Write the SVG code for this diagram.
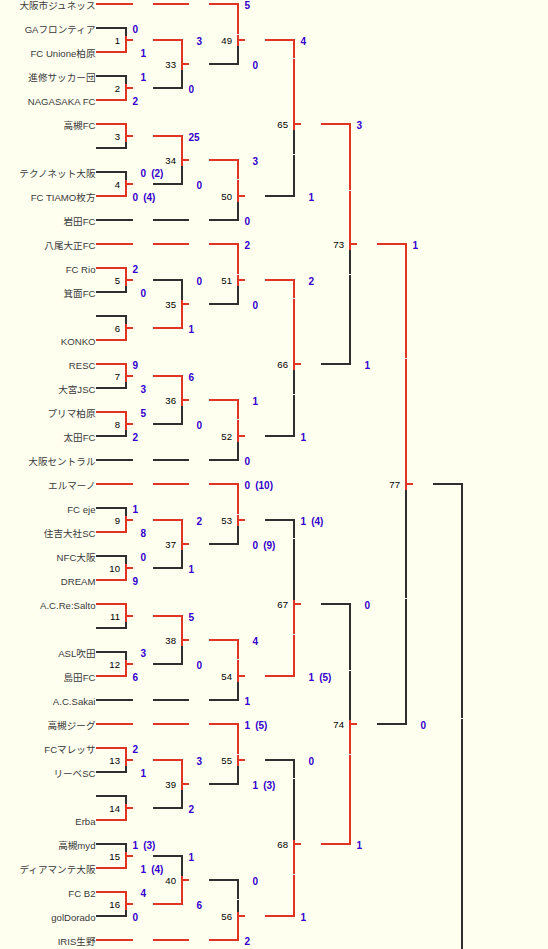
<svg xmlns="http://www.w3.org/2000/svg" width="548" height="949" viewBox="0 0 548 949">
<style>
.k{stroke:#2f2f2f;stroke-width:2;fill:none}
.r{stroke:#e23424;stroke-width:2;fill:none}
.g{fill:#ffffff}
.nm{font-family:"Liberation Sans","Noto Sans CJK JP",sans-serif;font-size:9.6px;fill:#3a3a3a;text-anchor:end}
.no{font-family:"Liberation Sans",sans-serif;font-size:9.6px;fill:#000;text-anchor:end}
.sc{font-family:"Liberation Sans",sans-serif;font-size:10px;font-weight:bold;fill:#3300cc}
</style>
<rect width="548" height="949" fill="#fffff0"/>
<g id="connectors" shape-rendering="crispEdges">
<!-- byes round 1/2 -->
<path class="r" d="M96 4H133M153 4H189M96 244H133M153 244H189M96 484H133M153 484H189M96 724H133M153 724H189M96 940H133M153 940H189"/>
<path class="k" d="M96 220H133M153 220H189M96 460H133M153 460H189M96 700H133M153 700H189"/>
<!-- round 1 -->
<path class="k" d="M96 28H127M96 76H127M96 148H127M96 172H127M96 292H127M96 316H127M96 388H127M96 436H127M96 508H127M96 556H127M96 628H127M96 652H127M96 772H127M96 796H127M96 844H127M96 916H127"/>
<path class="r" d="M96 52H127M96 100H127M96 124H127M96 196H127M96 268H127M96 340H127M96 364H127M96 412H127M96 532H127M96 580H127M96 604H127M96 676H127M96 748H127M96 820H127M96 868H127M96 892H127"/>
<path class="k" d="M126 27V53M126 75V101M126 123V149M126 171V197M126 267V293M126 315V341M126 363V389M126 411V437M126 507V533M126 555V581M126 603V629M126 651V677M126 747V773M126 795V821M126 843V869M126 891V917"/>
<path class="r" d="M126 36V53M126 84V101M126 123V142M126 180V197M126 267V286M126 324V341M126 363V382M126 411V430M126 516V533M126 564V581M126 603V622M126 660V677M126 747V766M126 804V821M126 852V869M126 891V910"/>
<path class="r" d="M127 40H133M127 88H133M127 136H133M127 184H133M127 280H133M127 328H133M127 376H133M127 424H133M127 520H133M127 568H133M127 616H133M127 664H133M127 760H133M127 808H133M127 856H133M127 904H133"/>
<!-- round 2 -->
<path class="r" d="M153 40H183M153 136H183M153 328H183M153 376H183M153 520H183M153 616H183M153 760H183M153 904H183"/>
<path class="k" d="M153 88H183M153 184H183M153 280H183M153 424H183M153 568H183M153 664H183M153 808H183M153 856H183"/>
<path class="k" d="M182 39V89M182 135V185M182 279V329M182 375V425M182 519V569M182 615V665M182 759V809M182 855V905"/>
<path class="r" d="M182 39V70M182 135V166M182 300V329M182 375V406M182 519V550M182 615V646M182 759V790M182 876V905"/>
<path class="r" d="M183 64H189M183 160H189M183 304H189M183 400H189M183 544H189M183 640H189M183 784H189M183 880H189"/>
<!-- round 3 -->
<path class="r" d="M209 4H239M209 160H239M209 244H239M209 400H239M209 484H239M209 640H239M209 724H239M209 940H239"/>
<path class="k" d="M209 64H239M209 220H239M209 304H239M209 460H239M209 544H239M209 700H239M209 784H239M209 880H239"/>
<path class="k" d="M238 3V65M238 159V221M238 243V305M238 399V461M238 483V545M238 639V701M238 723V785M238 879V941"/>
<path class="r" d="M238 3V46M238 159V202M238 243V286M238 399V442M238 483V526M238 639V682M238 723V766M238 912V941"/>
<path class="r" d="M239 40H245M239 196H245M239 280H245M239 436H245M239 520H245M239 676H245M239 760H245M239 916H245"/>
<!-- round 4 -->
<path class="r" d="M265 40H295M265 280H295M265 676H295M265 916H295"/>
<path class="k" d="M265 196H295M265 436H295M265 520H295M265 760H295"/>
<path class="k" d="M294 39V197M294 279V437M294 519V677M294 759V917"/>
<path class="r" d="M294 39V130M294 279V370M294 600V677M294 840V917"/>
<path class="r" d="M295 124H301M295 364H301M295 604H301M295 844H301"/>
<!-- round 5 -->
<path class="r" d="M321 124H351M321 844H351"/>
<path class="k" d="M321 364H351M321 604H351"/>
<path class="k" d="M350 123V365M350 603V845"/>
<path class="r" d="M350 123V250M350 720V845"/>
<path class="r" d="M351 244H357M351 724H357"/>
<!-- round 6 -->
<path class="r" d="M377 244H407"/>
<path class="k" d="M377 724H407"/>
<path class="k" d="M406 243V725"/>
<path class="r" d="M406 243V490"/>
<path class="r" d="M407 484H413"/>
<!-- final -->
<path class="k" d="M433 484H463M462 483V949"/>
<!-- cell seams -->
<g class="g">
<rect x="237" y="34" width="2" height="1"/><rect x="237" y="179" width="2" height="1"/><rect x="237" y="274" width="2" height="1"/><rect x="237" y="419" width="2" height="1"/><rect x="237" y="514" width="2" height="1"/><rect x="237" y="659" width="2" height="1"/><rect x="237" y="754" width="2" height="1"/><rect x="237" y="899" width="2" height="1"/>
<rect x="293" y="58" width="2" height="1"/><rect x="293" y="154" width="2" height="1"/><rect x="293" y="298" width="2" height="1"/><rect x="293" y="394" width="2" height="1"/><rect x="293" y="538" width="2" height="1"/><rect x="293" y="634" width="2" height="1"/><rect x="293" y="778" width="2" height="1"/><rect x="293" y="874" width="2" height="1"/>
<rect x="349" y="190" width="2" height="1"/><rect x="349" y="274" width="2" height="1"/><rect x="349" y="670" width="2" height="1"/><rect x="349" y="754" width="2" height="1"/>
<rect x="405" y="358" width="2" height="1"/><rect x="405" y="598" width="2" height="1"/>
<rect x="461" y="718" width="2" height="1"/>
</g>
</g>
<g id="teams">
<g id="team-00"><text class="nm" x="95.5" y="9">大阪市ジュネッス</text></g>
<g id="team-01"><text class="nm" x="95.5" y="33">GAフロンティア</text></g>
<g id="team-02"><text class="nm" x="95.5" y="57">FC Unione柏原</text></g>
<g id="team-03"><text class="nm" x="95.5" y="81">進修サッカー団</text></g>
<g id="team-04"><text class="nm" x="95.5" y="105">NAGASAKA FC</text></g>
<g id="team-05"><text class="nm" x="95.5" y="129">高槻FC</text></g>
<g id="team-07"><text class="nm" x="95.5" y="177">テクノネット大阪</text></g>
<g id="team-08"><text class="nm" x="95.5" y="201">FC TIAMO枚方</text></g>
<g id="team-09"><text class="nm" x="95.5" y="225">岩田FC</text></g>
<g id="team-10"><text class="nm" x="95.5" y="249">八尾大正FC</text></g>
<g id="team-11"><text class="nm" x="95.5" y="273">FC Rio</text></g>
<g id="team-12"><text class="nm" x="95.5" y="297">箕面FC</text></g>
<g id="team-14"><text class="nm" x="95.5" y="345">KONKO</text></g>
<g id="team-15"><text class="nm" x="95.5" y="369">RESC</text></g>
<g id="team-16"><text class="nm" x="95.5" y="393">大宮JSC</text></g>
<g id="team-17"><text class="nm" x="95.5" y="417">プリマ柏原</text></g>
<g id="team-18"><text class="nm" x="95.5" y="441">太田FC</text></g>
<g id="team-19"><text class="nm" x="95.5" y="465">大阪セントラル</text></g>
<g id="team-20"><text class="nm" x="95.5" y="489">エルマーノ</text></g>
<g id="team-21"><text class="nm" x="95.5" y="513">FC eje</text></g>
<g id="team-22"><text class="nm" x="95.5" y="537">住吉大社SC</text></g>
<g id="team-23"><text class="nm" x="95.5" y="561">NFC大阪</text></g>
<g id="team-24"><text class="nm" x="95.5" y="585">DREAM</text></g>
<g id="team-25"><text class="nm" x="95.5" y="609">A.C.Re:Salto</text></g>
<g id="team-27"><text class="nm" x="95.5" y="657">ASL吹田</text></g>
<g id="team-28"><text class="nm" x="95.5" y="681">島田FC</text></g>
<g id="team-29"><text class="nm" x="95.5" y="705">A.C.Sakai</text></g>
<g id="team-30"><text class="nm" x="95.5" y="729">高槻ジーグ</text></g>
<g id="team-31"><text class="nm" x="95.5" y="753">FCマレッサ</text></g>
<g id="team-32"><text class="nm" x="95.5" y="777">リーベSC</text></g>
<g id="team-34"><text class="nm" x="95.5" y="825">Erba</text></g>
<g id="team-35"><text class="nm" x="95.5" y="849">高槻myd</text></g>
<g id="team-36"><text class="nm" x="95.5" y="873">ディアマンテ大阪</text></g>
<g id="team-37"><text class="nm" x="95.5" y="897">FC B2</text></g>
<g id="team-38"><text class="nm" x="95.5" y="921">golDorado</text></g>
<g id="team-39"><text class="nm" x="95.5" y="945">IRIS生野</text></g>
</g>
<g id="matches">
<g id="m1"><text class="no" x="120" y="44">1</text><text class="sc" x="132.5" y="33">0</text><text class="sc" x="140.5" y="57">1</text></g>
<g id="m2"><text class="no" x="120" y="92">2</text><text class="sc" x="140.5" y="81">1</text><text class="sc" x="132.5" y="105">2</text></g>
<g id="m3"><text class="no" x="120" y="140">3</text></g>
<g id="m4"><text class="no" x="120" y="188">4</text><text class="sc" x="140.5" y="177">0<tspan x="151.2">(2)</tspan></text><text class="sc" x="132.5" y="201">0<tspan x="143.2">(4)</tspan></text></g>
<g id="m5"><text class="no" x="120" y="284">5</text><text class="sc" x="132.5" y="273">2</text><text class="sc" x="140.5" y="297">0</text></g>
<g id="m6"><text class="no" x="120" y="332">6</text></g>
<g id="m7"><text class="no" x="120" y="380">7</text><text class="sc" x="132.5" y="369">9</text><text class="sc" x="140.5" y="393">3</text></g>
<g id="m8"><text class="no" x="120" y="428">8</text><text class="sc" x="140.5" y="417">5</text><text class="sc" x="132.5" y="441">2</text></g>
<g id="m9"><text class="no" x="120" y="524">9</text><text class="sc" x="132.5" y="513">1</text><text class="sc" x="140.5" y="537">8</text></g>
<g id="m10"><text class="no" x="120" y="572">10</text><text class="sc" x="140.5" y="561">0</text><text class="sc" x="132.5" y="585">9</text></g>
<g id="m11"><text class="no" x="120" y="620">11</text></g>
<g id="m12"><text class="no" x="120" y="668">12</text><text class="sc" x="140.5" y="657">3</text><text class="sc" x="132.5" y="681">6</text></g>
<g id="m13"><text class="no" x="120" y="764">13</text><text class="sc" x="132.5" y="753">2</text><text class="sc" x="140.5" y="777">1</text></g>
<g id="m14"><text class="no" x="120" y="812">14</text></g>
<g id="m15"><text class="no" x="120" y="860">15</text><text class="sc" x="132.5" y="849">1<tspan x="143.2">(3)</tspan></text><text class="sc" x="140.5" y="873">1<tspan x="151.2">(4)</tspan></text></g>
<g id="m16"><text class="no" x="120" y="908">16</text><text class="sc" x="140.5" y="897">4</text><text class="sc" x="132.5" y="921">0</text></g>
<g id="m33"><text class="no" x="176" y="68">33</text><text class="sc" x="196.5" y="45">3</text><text class="sc" x="188.5" y="93">0</text></g>
<g id="m34"><text class="no" x="176" y="164">34</text><text class="sc" x="188.5" y="141">25</text><text class="sc" x="196.5" y="189">0</text></g>
<g id="m35"><text class="no" x="176" y="308">35</text><text class="sc" x="196.5" y="285">0</text><text class="sc" x="188.5" y="333">1</text></g>
<g id="m36"><text class="no" x="176" y="404">36</text><text class="sc" x="188.5" y="381">6</text><text class="sc" x="196.5" y="429">0</text></g>
<g id="m37"><text class="no" x="176" y="548">37</text><text class="sc" x="196.5" y="525">2</text><text class="sc" x="188.5" y="573">1</text></g>
<g id="m38"><text class="no" x="176" y="644">38</text><text class="sc" x="188.5" y="621">5</text><text class="sc" x="196.5" y="669">0</text></g>
<g id="m39"><text class="no" x="176" y="788">39</text><text class="sc" x="196.5" y="765">3</text><text class="sc" x="188.5" y="813">2</text></g>
<g id="m40"><text class="no" x="176" y="884">40</text><text class="sc" x="188.5" y="861">1</text><text class="sc" x="196.5" y="909">6</text></g>
<g id="m49"><text class="no" x="232" y="44">49</text><text class="sc" x="244.5" y="9">5</text><text class="sc" x="252.5" y="69">0</text></g>
<g id="m50"><text class="no" x="232" y="200">50</text><text class="sc" x="252.5" y="165">3</text><text class="sc" x="244.5" y="225">0</text></g>
<g id="m51"><text class="no" x="232" y="284">51</text><text class="sc" x="244.5" y="249">2</text><text class="sc" x="252.5" y="309">0</text></g>
<g id="m52"><text class="no" x="232" y="440">52</text><text class="sc" x="252.5" y="405">1</text><text class="sc" x="244.5" y="465">0</text></g>
<g id="m53"><text class="no" x="232" y="524">53</text><text class="sc" x="244.5" y="489">0<tspan x="255.2">(10)</tspan></text><text class="sc" x="252.5" y="549">0<tspan x="263.2">(9)</tspan></text></g>
<g id="m54"><text class="no" x="232" y="680">54</text><text class="sc" x="252.5" y="645">4</text><text class="sc" x="244.5" y="705">1</text></g>
<g id="m55"><text class="no" x="232" y="764">55</text><text class="sc" x="244.5" y="729">1<tspan x="255.2">(5)</tspan></text><text class="sc" x="252.5" y="789">1<tspan x="263.2">(3)</tspan></text></g>
<g id="m56"><text class="no" x="232" y="920">56</text><text class="sc" x="252.5" y="885">0</text><text class="sc" x="244.5" y="945">2</text></g>
<g id="m65"><text class="no" x="288" y="128">65</text><text class="sc" x="300.5" y="45">4</text><text class="sc" x="308.5" y="201">1</text></g>
<g id="m66"><text class="no" x="288" y="368">66</text><text class="sc" x="308.5" y="285">2</text><text class="sc" x="300.5" y="441">1</text></g>
<g id="m67"><text class="no" x="288" y="608">67</text><text class="sc" x="300.5" y="525">1<tspan x="311.2">(4)</tspan></text><text class="sc" x="308.5" y="681">1<tspan x="319.2">(5)</tspan></text></g>
<g id="m68"><text class="no" x="288" y="848">68</text><text class="sc" x="308.5" y="765">0</text><text class="sc" x="300.5" y="921">1</text></g>
<g id="m73"><text class="no" x="344" y="248">73</text><text class="sc" x="356.5" y="129">3</text><text class="sc" x="364.5" y="369">1</text></g>
<g id="m74"><text class="no" x="344" y="728">74</text><text class="sc" x="364.5" y="609">0</text><text class="sc" x="356.5" y="849">1</text></g>
<g id="m77"><text class="no" x="400" y="488">77</text><text class="sc" x="412.5" y="249">1</text><text class="sc" x="420.5" y="729">0</text></g>
</g>
</svg>
